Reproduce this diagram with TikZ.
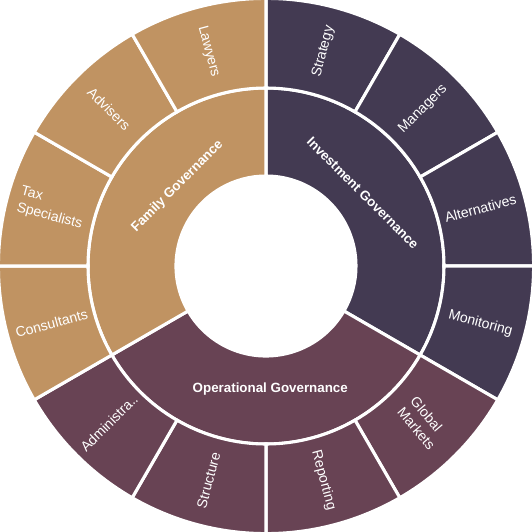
\documentclass[tikz,border=0pt]{standalone}
\usepackage{fontspec}
\setmainfont{Liberation Sans}
\usepackage{tikz}
\usetikzlibrary{arrows.meta,positioning,calc}
\definecolor{familytan}{HTML}{C09362}
\definecolor{investdark}{HTML}{433A52}
\definecolor{operplum}{HTML}{684354}

\tikzset{
  sector/.style={draw=white,line width=2.2pt,line join=miter},
  leaf/.style={text=white,font=\fontsize{10}{12}\selectfont,align=left,inner sep=0pt},
  branch/.style={text=white,font=\bfseries\fontsize{9.5}{11}\selectfont,inner sep=0pt}
}

\begin{document}
\begin{tikzpicture}[>=Latex]
\useasboundingbox (-6.65,-6.65) rectangle (6.65,6.65);
% inner ring
\foreach \a/\b/\c in {90/-30/investdark,-30/-150/operplum,210/90/familytan}{
    \fill[\c,sector] (\a:2.25) arc[start angle=\a,end angle=\b,radius=2.25]
        -- (\b:4.45) arc[start angle=\b,end angle=\a,radius=4.45] -- cycle;
}
% outer ring
\foreach \m/\c in {75/investdark,45/investdark,15/investdark,-15/investdark,
    -45/operplum,-75/operplum,-105/operplum,-135/operplum,
    -165/familytan,165/familytan,135/familytan,105/familytan}{
    \pgfmathsetmacro{\aa}{\m+15}
    \pgfmathsetmacro{\bb}{\m-15}
    \fill[\c,sector] (\aa:4.45) arc[start angle=\aa,end angle=\bb,radius=4.45]
        -- (\bb:6.69) arc[start angle=\bb,end angle=\aa,radius=6.69] -- cycle;
}
\node[branch,rotate=-45] (invest) at (37:3.03) {Investment Governance};
\node[branch] (oper) at (-88:3.08) {Operational Governance};
\node[branch,rotate=45] (family) at (138:2.98) {Family Governance};
\foreach \m/\r/\n/\t in {75/75/strategy/Strategy,45/45/managers/Managers,
    15/15/alternatives/Alternatives,-15/-15/monitoring/Monitoring,
    -45/-50/globalmarkets/{Global\\Markets},-75/-75/reporting/Reporting,
    -105/75/structure/Structure,-135/45/admin/Administra..,
    -165/15/consultants/Consultants,165/-15/taxspec/{Tax\\Specialists},
    135/-45/advisers/Advisers,105/-75/lawyers/Lawyers}{
    \node[leaf,rotate=\r] (\n) at (\m:5.55) {\t};
}
\end{tikzpicture}
\end{document}
